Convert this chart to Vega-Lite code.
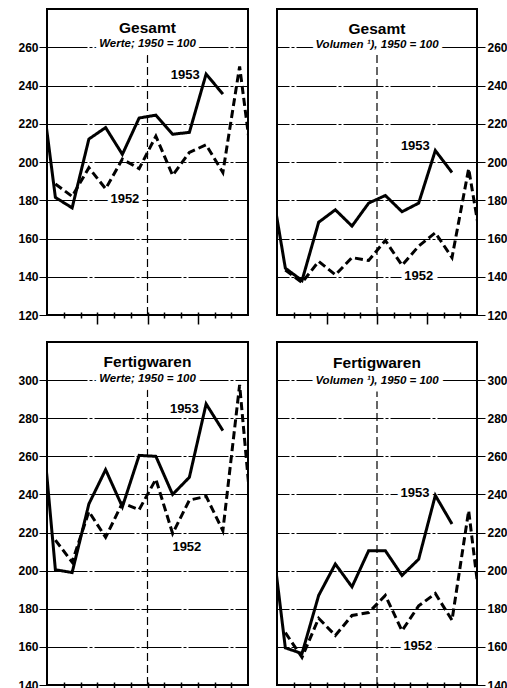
{
  "$schema": "https://vega.github.io/schema/vega-lite/v6.json",
  "padding": {"left": 16, "top": 8, "right": 0, "bottom": 0},
  "background": "white",
  "config": {"view": {"stroke": "black", "strokeWidth": 2}},
  "datasets": {
    "lines": [
      {"p":"TL","s":"1953","m":0,"v":250},{"p":"TL","s":"1953","m":1,"v":181.5},{"p":"TL","s":"1953","m":2,"v":176},{"p":"TL","s":"1953","m":3,"v":212},{"p":"TL","s":"1953","m":4,"v":218},{"p":"TL","s":"1953","m":5,"v":204},{"p":"TL","s":"1953","m":6,"v":223},{"p":"TL","s":"1953","m":7,"v":224.5},{"p":"TL","s":"1953","m":8,"v":214.5},{"p":"TL","s":"1953","m":9,"v":215.5},{"p":"TL","s":"1953","m":10,"v":246},{"p":"TL","s":"1953","m":11,"v":235.5},
      {"p":"TL","s":"1952","m":1,"v":188.5},{"p":"TL","s":"1952","m":2,"v":182},{"p":"TL","s":"1952","m":3,"v":197},{"p":"TL","s":"1952","m":4,"v":186},{"p":"TL","s":"1952","m":5,"v":201.5},{"p":"TL","s":"1952","m":6,"v":196.5},{"p":"TL","s":"1952","m":7,"v":213.5},{"p":"TL","s":"1952","m":8,"v":193},{"p":"TL","s":"1952","m":9,"v":205},{"p":"TL","s":"1952","m":10,"v":209},{"p":"TL","s":"1952","m":11,"v":194.5},{"p":"TL","s":"1952","m":12,"v":250},{"p":"TL","s":"1952","m":13,"v":181.5},
      {"p":"TR","s":"1953","m":0,"v":196.5},{"p":"TR","s":"1953","m":1,"v":144.5},{"p":"TR","s":"1953","m":2,"v":138},{"p":"TR","s":"1953","m":3,"v":168.5},{"p":"TR","s":"1953","m":4,"v":175},{"p":"TR","s":"1953","m":5,"v":166.5},{"p":"TR","s":"1953","m":6,"v":178.5},{"p":"TR","s":"1953","m":7,"v":182.5},{"p":"TR","s":"1953","m":8,"v":174},{"p":"TR","s":"1953","m":9,"v":178.5},{"p":"TR","s":"1953","m":10,"v":206},{"p":"TR","s":"1953","m":11,"v":194.5},
      {"p":"TR","s":"1952","m":1,"v":143.5},{"p":"TR","s":"1952","m":2,"v":137},{"p":"TR","s":"1952","m":3,"v":148},{"p":"TR","s":"1952","m":4,"v":141},{"p":"TR","s":"1952","m":5,"v":150},{"p":"TR","s":"1952","m":6,"v":148.5},{"p":"TR","s":"1952","m":7,"v":159},{"p":"TR","s":"1952","m":8,"v":146},{"p":"TR","s":"1952","m":9,"v":156},{"p":"TR","s":"1952","m":10,"v":163},{"p":"TR","s":"1952","m":11,"v":150},{"p":"TR","s":"1952","m":12,"v":196.5},{"p":"TR","s":"1952","m":13,"v":144.5},
      {"p":"BL","s":"1953","m":0,"v":297.5},{"p":"BL","s":"1953","m":1,"v":200.5},{"p":"BL","s":"1953","m":2,"v":199},{"p":"BL","s":"1953","m":3,"v":235},{"p":"BL","s":"1953","m":4,"v":253},{"p":"BL","s":"1953","m":5,"v":233.5},{"p":"BL","s":"1953","m":6,"v":260.5},{"p":"BL","s":"1953","m":7,"v":260},{"p":"BL","s":"1953","m":8,"v":240},{"p":"BL","s":"1953","m":9,"v":249},{"p":"BL","s":"1953","m":10,"v":287.5},{"p":"BL","s":"1953","m":11,"v":273.5},
      {"p":"BL","s":"1952","m":1,"v":216},{"p":"BL","s":"1952","m":2,"v":204.5},{"p":"BL","s":"1952","m":3,"v":231},{"p":"BL","s":"1952","m":4,"v":217.5},{"p":"BL","s":"1952","m":5,"v":235.5},{"p":"BL","s":"1952","m":6,"v":232},{"p":"BL","s":"1952","m":7,"v":248},{"p":"BL","s":"1952","m":8,"v":219.5},{"p":"BL","s":"1952","m":9,"v":237},{"p":"BL","s":"1952","m":10,"v":239},{"p":"BL","s":"1952","m":11,"v":221},{"p":"BL","s":"1952","m":12,"v":297.5},{"p":"BL","s":"1952","m":13,"v":200.5},
      {"p":"BR","s":"1953","m":0,"v":231.5},{"p":"BR","s":"1953","m":1,"v":159.5},{"p":"BR","s":"1953","m":2,"v":156.5},{"p":"BR","s":"1953","m":3,"v":187},{"p":"BR","s":"1953","m":4,"v":203.5},{"p":"BR","s":"1953","m":5,"v":191.5},{"p":"BR","s":"1953","m":6,"v":210.5},{"p":"BR","s":"1953","m":7,"v":210.5},{"p":"BR","s":"1953","m":8,"v":197.5},{"p":"BR","s":"1953","m":9,"v":206},{"p":"BR","s":"1953","m":10,"v":239.5},{"p":"BR","s":"1953","m":11,"v":224.5},
      {"p":"BR","s":"1952","m":1,"v":167.5},{"p":"BR","s":"1952","m":2,"v":154.5},{"p":"BR","s":"1952","m":3,"v":175},{"p":"BR","s":"1952","m":4,"v":166},{"p":"BR","s":"1952","m":5,"v":176.5},{"p":"BR","s":"1952","m":6,"v":178},{"p":"BR","s":"1952","m":7,"v":187},{"p":"BR","s":"1952","m":8,"v":168.5},{"p":"BR","s":"1952","m":9,"v":181.5},{"p":"BR","s":"1952","m":10,"v":188},{"p":"BR","s":"1952","m":11,"v":174},{"p":"BR","s":"1952","m":12,"v":231.5},{"p":"BR","s":"1952","m":13,"v":159.5}
    ],
    "labels": [
      {"p":"TL","k":"title","t":"Gesamt","m":6.5,"v":270},
      {"p":"TL","k":"sub","t":"Werte; 1950 = 100","m":6.5,"v":261.5},
      {"p":"TL","k":"year","t":"1953","m":8.75,"v":245.5},
      {"p":"TL","k":"year","t":"1952","m":5.15,"v":180.5},
      {"p":"TR","k":"title","t":"Gesamt","m":6.5,"v":269.5},
      {"p":"TR","k":"sub","t":"Volumen ¹), 1950 = 100","m":6.5,"v":261},
      {"p":"TR","k":"year","t":"1953","m":8.8,"v":208.5},
      {"p":"TR","k":"year","t":"1952","m":9.0,"v":140.5},
      {"p":"BL","k":"title","t":"Fertigwaren","m":6.5,"v":309.5},
      {"p":"BL","k":"sub","t":"Werte; 1950 = 100","m":6.5,"v":300.5},
      {"p":"BL","k":"year","t":"1953","m":8.7,"v":285},
      {"p":"BL","k":"year","t":"1952","m":8.85,"v":212.5},
      {"p":"BR","k":"title","t":"Fertigwaren","m":6.5,"v":309},
      {"p":"BR","k":"sub","t":"Volumen ¹), 1950 = 100","m":6.5,"v":299.5},
      {"p":"BR","k":"year","t":"1953","m":8.78,"v":241},
      {"p":"BR","k":"year","t":"1952","m":8.95,"v":160.5}
    ],
    "vlines": [
      {"p":"TL","m":6.5,"v":120,"v2":256},
      {"p":"TR","m":6.5,"v":120,"v2":256},
      {"p":"BL","m":6.5,"v":140,"v2":295},
      {"p":"BR","m":6.5,"v":140,"v2":294}
    ]
  },
  "columns": 2,
  "spacing": {"row": 27, "column": 29},
  "bounds": "flush",
  "concat": [
    {
      "width": 201, "height": 306,
      "encoding": {
        "x": {"field":"m","type":"quantitative","scale":{"domain":[0.5,12.5],"nice":false,"zero":false},
              "axis":{"values":[1.5,2.5,3.5,4.5,5.5,6.5,7.5,8.5,9.5,10.5,11.5],"labels":false,"domain":false,"grid":false,"ticks":true,"tickColor":"black","tickWidth":1.5,"tickSize":{"condition":{"test":"datum.value==3.5||datum.value==6.5||datum.value==9.5","value":12},"value":6},"offset":-3,"title":null}},
        "y": {"field":"v","type":"quantitative","scale":{"domain":[120,280],"nice":false,"zero":false},
              "axis":{"orient":"left","values":[120,140,160,180,200,220,240,260],"grid":true,"gridColor":"black","gridWidth":1,"gridDash":[40,2,3,2],"domain":false,"ticks":true,"tickSize":8,"tickColor":"black","tickWidth":1,"labelPadding":1,"labelFont":"Liberation Sans","labelFontWeight":"bold","labelFontSize":12,"labelColor":"black","title":null}}
      },
      "layer": [
        {"data":{"name":"vlines"},"transform":[{"filter":"datum.p=='TL'"}],"mark":{"type":"rule","color":"black","strokeWidth":1.2,"strokeDash":[8,4]},"encoding":{"y2":{"field":"v2"}}},
        {"data":{"name":"lines"},"transform":[{"filter":"datum.p=='TL'"}],"mark":{"type":"line","clip":true,"color":"black","strokeWidth":3,"strokeJoin":"miter"},"encoding":{"strokeDash":{"field":"s","type":"nominal","scale":{"domain":["1952","1953"],"range":[[8,4],[1,0]]},"legend":null}}},
        {"data":{"name":"labels"},"transform":[{"filter":"datum.p=='TL' && datum.k=='sub'"}],"mark":{"type":"text","font":"Liberation Sans","fontSize":11.5,"fontStyle":"italic","fontWeight":"bold","fill":"white","stroke":"white","strokeWidth":9},"encoding":{"text":{"field":"t"}}},
        {"data":{"name":"labels"},"transform":[{"filter":"datum.p=='TL' && datum.k=='year'"}],"mark":{"type":"text","font":"Liberation Sans","fontSize":13,"fontWeight":"bold","fill":"white","stroke":"white","strokeWidth":7},"encoding":{"text":{"field":"t"}}},
        {"data":{"name":"labels"},"transform":[{"filter":"datum.p=='TL' && datum.k=='title'"}],"mark":{"type":"text","font":"Liberation Sans","fontSize":15.5,"fontWeight":"bold","fill":"black"},"encoding":{"text":{"field":"t"}}},
        {"data":{"name":"labels"},"transform":[{"filter":"datum.p=='TL' && datum.k=='sub'"}],"mark":{"type":"text","font":"Liberation Sans","fontSize":11.5,"fontStyle":"italic","fontWeight":"bold","fill":"black"},"encoding":{"text":{"field":"t"}}},
        {"data":{"name":"labels"},"transform":[{"filter":"datum.p=='TL' && datum.k=='year'"}],"mark":{"type":"text","font":"Liberation Sans","fontSize":13,"fontWeight":"bold","fill":"black"},"encoding":{"text":{"field":"t"}}}
      ]
    },
    {
      "width": 200, "height": 306,
      "encoding": {
        "x": {"field":"m","type":"quantitative","scale":{"domain":[0.5,12.5],"nice":false,"zero":false},
              "axis":{"values":[1.5,2.5,3.5,4.5,5.5,6.5,7.5,8.5,9.5,10.5,11.5],"labels":false,"domain":false,"grid":false,"ticks":true,"tickColor":"black","tickWidth":1.5,"tickSize":{"condition":{"test":"datum.value==3.5||datum.value==6.5||datum.value==9.5","value":12},"value":6},"offset":-3,"title":null}},
        "y": {"field":"v","type":"quantitative","scale":{"domain":[120,280],"nice":false,"zero":false},
              "axis":{"orient":"right","values":[120,140,160,180,200,220,240,260],"grid":true,"gridColor":"black","gridWidth":1,"gridDash":[40,2,3,2],"domain":false,"ticks":true,"tickSize":8,"tickColor":"black","tickWidth":1,"labelPadding":2,"labelFont":"Liberation Sans","labelFontWeight":"bold","labelFontSize":12,"labelColor":"black","title":null}}
      },
      "layer": [
        {"data":{"name":"vlines"},"transform":[{"filter":"datum.p=='TR'"}],"mark":{"type":"rule","color":"black","strokeWidth":1.2,"strokeDash":[8,4]},"encoding":{"y2":{"field":"v2"}}},
        {"data":{"name":"lines"},"transform":[{"filter":"datum.p=='TR'"}],"mark":{"type":"line","clip":true,"color":"black","strokeWidth":3,"strokeJoin":"miter"},"encoding":{"strokeDash":{"field":"s","type":"nominal","scale":{"domain":["1952","1953"],"range":[[8,4],[1,0]]},"legend":null}}},
        {"data":{"name":"labels"},"transform":[{"filter":"datum.p=='TR' && datum.k=='sub'"}],"mark":{"type":"text","font":"Liberation Sans","fontSize":11.5,"fontStyle":"italic","fontWeight":"bold","fill":"white","stroke":"white","strokeWidth":9},"encoding":{"text":{"field":"t"}}},
        {"data":{"name":"labels"},"transform":[{"filter":"datum.p=='TR' && datum.k=='year'"}],"mark":{"type":"text","font":"Liberation Sans","fontSize":13,"fontWeight":"bold","fill":"white","stroke":"white","strokeWidth":7},"encoding":{"text":{"field":"t"}}},
        {"data":{"name":"labels"},"transform":[{"filter":"datum.p=='TR' && datum.k=='title'"}],"mark":{"type":"text","font":"Liberation Sans","fontSize":15.5,"fontWeight":"bold","fill":"black"},"encoding":{"text":{"field":"t"}}},
        {"data":{"name":"labels"},"transform":[{"filter":"datum.p=='TR' && datum.k=='sub'"}],"mark":{"type":"text","font":"Liberation Sans","fontSize":11.5,"fontStyle":"italic","fontWeight":"bold","fill":"black"},"encoding":{"text":{"field":"t"}}},
        {"data":{"name":"labels"},"transform":[{"filter":"datum.p=='TR' && datum.k=='year'"}],"mark":{"type":"text","font":"Liberation Sans","fontSize":13,"fontWeight":"bold","fill":"black"},"encoding":{"text":{"field":"t"}}}
      ]
    },
    {
      "width": 201, "height": 343,
      "encoding": {
        "x": {"field":"m","type":"quantitative","scale":{"domain":[0.5,12.5],"nice":false,"zero":false},
              "axis":{"values":[1.5,2.5,3.5,4.5,5.5,6.5,7.5,8.5,9.5,10.5,11.5],"labels":false,"domain":false,"grid":false,"ticks":true,"tickColor":"black","tickWidth":1.5,"tickSize":{"condition":{"test":"datum.value==3.5||datum.value==6.5||datum.value==9.5","value":12},"value":6},"offset":-3,"title":null}},
        "y": {"field":"v","type":"quantitative","scale":{"domain":[140,320],"nice":false,"zero":false},
              "axis":{"orient":"left","values":[140,160,180,200,220,240,260,280,300],"grid":true,"gridColor":"black","gridWidth":1,"gridDash":[40,2,3,2],"domain":false,"ticks":true,"tickSize":8,"tickColor":"black","tickWidth":1,"labelPadding":1,"labelFont":"Liberation Sans","labelFontWeight":"bold","labelFontSize":12,"labelColor":"black","title":null}}
      },
      "layer": [
        {"data":{"name":"vlines"},"transform":[{"filter":"datum.p=='BL'"}],"mark":{"type":"rule","color":"black","strokeWidth":1.2,"strokeDash":[8,4]},"encoding":{"y2":{"field":"v2"}}},
        {"data":{"name":"lines"},"transform":[{"filter":"datum.p=='BL'"}],"mark":{"type":"line","clip":true,"color":"black","strokeWidth":3,"strokeJoin":"miter"},"encoding":{"strokeDash":{"field":"s","type":"nominal","scale":{"domain":["1952","1953"],"range":[[8,4],[1,0]]},"legend":null}}},
        {"data":{"name":"labels"},"transform":[{"filter":"datum.p=='BL' && datum.k=='sub'"}],"mark":{"type":"text","font":"Liberation Sans","fontSize":11.5,"fontStyle":"italic","fontWeight":"bold","fill":"white","stroke":"white","strokeWidth":9},"encoding":{"text":{"field":"t"}}},
        {"data":{"name":"labels"},"transform":[{"filter":"datum.p=='BL' && datum.k=='year'"}],"mark":{"type":"text","font":"Liberation Sans","fontSize":13,"fontWeight":"bold","fill":"white","stroke":"white","strokeWidth":7},"encoding":{"text":{"field":"t"}}},
        {"data":{"name":"labels"},"transform":[{"filter":"datum.p=='BL' && datum.k=='title'"}],"mark":{"type":"text","font":"Liberation Sans","fontSize":15.5,"fontWeight":"bold","fill":"black"},"encoding":{"text":{"field":"t"}}},
        {"data":{"name":"labels"},"transform":[{"filter":"datum.p=='BL' && datum.k=='sub'"}],"mark":{"type":"text","font":"Liberation Sans","fontSize":11.5,"fontStyle":"italic","fontWeight":"bold","fill":"black"},"encoding":{"text":{"field":"t"}}},
        {"data":{"name":"labels"},"transform":[{"filter":"datum.p=='BL' && datum.k=='year'"}],"mark":{"type":"text","font":"Liberation Sans","fontSize":13,"fontWeight":"bold","fill":"black"},"encoding":{"text":{"field":"t"}}}
      ]
    },
    {
      "width": 200, "height": 343,
      "encoding": {
        "x": {"field":"m","type":"quantitative","scale":{"domain":[0.5,12.5],"nice":false,"zero":false},
              "axis":{"values":[1.5,2.5,3.5,4.5,5.5,6.5,7.5,8.5,9.5,10.5,11.5],"labels":false,"domain":false,"grid":false,"ticks":true,"tickColor":"black","tickWidth":1.5,"tickSize":{"condition":{"test":"datum.value==3.5||datum.value==6.5||datum.value==9.5","value":12},"value":6},"offset":-3,"title":null}},
        "y": {"field":"v","type":"quantitative","scale":{"domain":[140,320],"nice":false,"zero":false},
              "axis":{"orient":"right","values":[140,160,180,200,220,240,260,280,300],"grid":true,"gridColor":"black","gridWidth":1,"gridDash":[40,2,3,2],"domain":false,"ticks":true,"tickSize":8,"tickColor":"black","tickWidth":1,"labelPadding":2,"labelFont":"Liberation Sans","labelFontWeight":"bold","labelFontSize":12,"labelColor":"black","title":null}}
      },
      "layer": [
        {"data":{"name":"vlines"},"transform":[{"filter":"datum.p=='BR'"}],"mark":{"type":"rule","color":"black","strokeWidth":1.2,"strokeDash":[8,4]},"encoding":{"y2":{"field":"v2"}}},
        {"data":{"name":"lines"},"transform":[{"filter":"datum.p=='BR'"}],"mark":{"type":"line","clip":true,"color":"black","strokeWidth":3,"strokeJoin":"miter"},"encoding":{"strokeDash":{"field":"s","type":"nominal","scale":{"domain":["1952","1953"],"range":[[8,4],[1,0]]},"legend":null}}},
        {"data":{"name":"labels"},"transform":[{"filter":"datum.p=='BR' && datum.k=='sub'"}],"mark":{"type":"text","font":"Liberation Sans","fontSize":11.5,"fontStyle":"italic","fontWeight":"bold","fill":"white","stroke":"white","strokeWidth":9},"encoding":{"text":{"field":"t"}}},
        {"data":{"name":"labels"},"transform":[{"filter":"datum.p=='BR' && datum.k=='year'"}],"mark":{"type":"text","font":"Liberation Sans","fontSize":13,"fontWeight":"bold","fill":"white","stroke":"white","strokeWidth":7},"encoding":{"text":{"field":"t"}}},
        {"data":{"name":"labels"},"transform":[{"filter":"datum.p=='BR' && datum.k=='title'"}],"mark":{"type":"text","font":"Liberation Sans","fontSize":15.5,"fontWeight":"bold","fill":"black"},"encoding":{"text":{"field":"t"}}},
        {"data":{"name":"labels"},"transform":[{"filter":"datum.p=='BR' && datum.k=='sub'"}],"mark":{"type":"text","font":"Liberation Sans","fontSize":11.5,"fontStyle":"italic","fontWeight":"bold","fill":"black"},"encoding":{"text":{"field":"t"}}},
        {"data":{"name":"labels"},"transform":[{"filter":"datum.p=='BR' && datum.k=='year'"}],"mark":{"type":"text","font":"Liberation Sans","fontSize":13,"fontWeight":"bold","fill":"black"},"encoding":{"text":{"field":"t"}}}
      ]
    }
  ]
}
